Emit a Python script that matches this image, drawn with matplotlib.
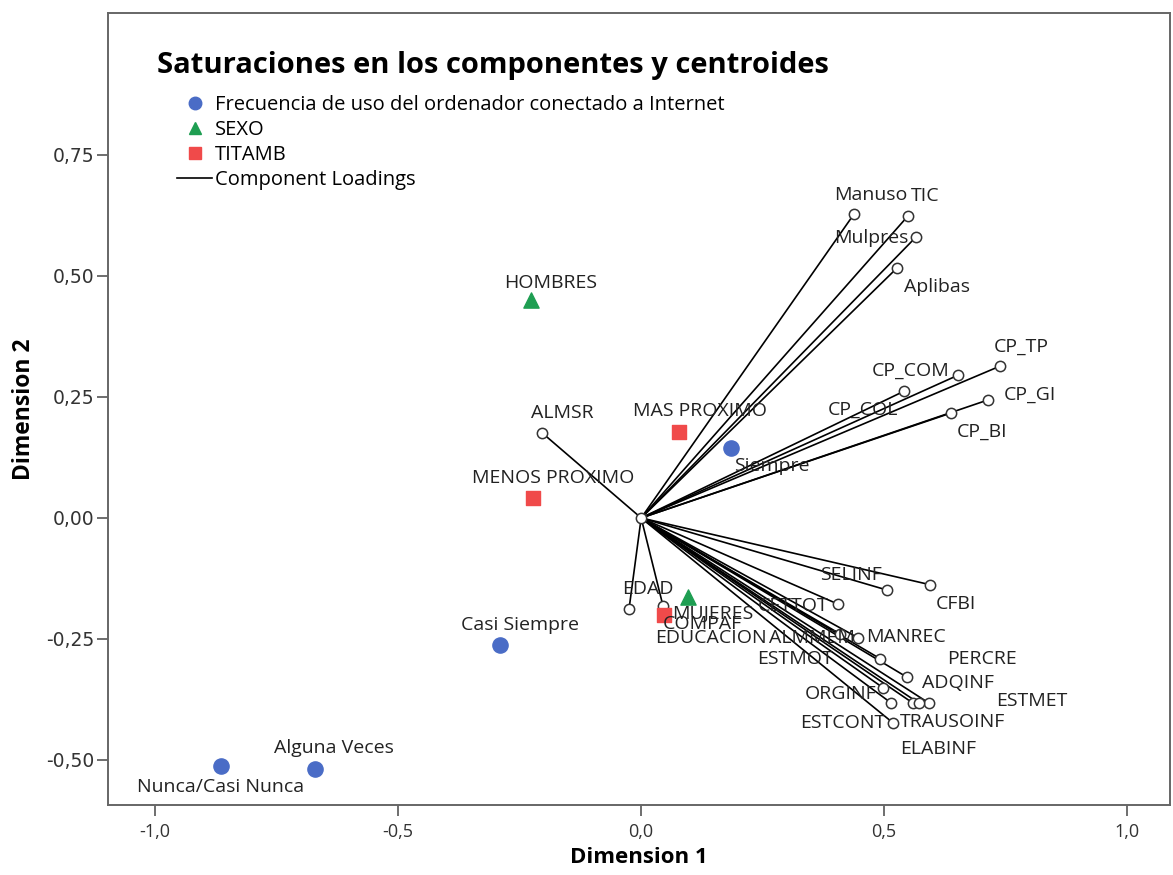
import matplotlib
matplotlib.use("Agg")
import matplotlib.pyplot as plt
from matplotlib.lines import Line2D
from matplotlib.ticker import FuncFormatter

plt.rcParams['font.family'] = ['Open Sans', 'DejaVu Sans']

# ---- data ----
load_names = ["Manuso", "TIC", "Mulpres", "Aplibas", "CP_TP", "CP_COM", "CP_COL",
              "CP_GI", "CP_BI", "ALMSR", "EDAD", "EDUCACION", "SELINF", "CFBI",
              "CETTOT", "ALMMEM", "MANREC", "ESTMOT", "PERCRE", "ADQINF", "ESTMET",
              "ORGINF", "ELABINF", "TRAUSOINF", "ESTCONT"]
load_d1 = [0.438, 0.549, 0.566, 0.527, 0.739, 0.652, 0.541,
           0.714, 0.638, -0.204, -0.025, 0.045, 0.506, 0.595,
           0.405, 0.410, 0.447, 0.514, 0.492, 0.547, 0.593,
           0.498, 0.560, 0.572, 0.519]
load_d2 = [0.628, 0.624, 0.581, 0.517, 0.314, 0.295, 0.262,
           0.244, 0.217, 0.176, -0.188, -0.182, -0.149, -0.138,
           -0.178, -0.240, -0.248, -0.382, -0.291, -0.329, -0.383,
           -0.351, -0.383, -0.383, -0.424]

freq_names = ["Siempre", "Casi Siempre", "Alguna Veces", "Nunca/Casi Nunca"]
freq_d1 = [0.185, -0.290, -0.671, -0.864]
freq_d2 = [0.145, -0.262, -0.519, -0.512]

sexo_names = ["HOMBRES", "MUJERES"]
sexo_d1 = [-0.226, 0.097]
sexo_d2 = [0.450, -0.163]

titamb_names = ["MAS PROXIMO", "MENOS PROXIMO", "COMPAF"]
titamb_d1 = [0.078, -0.222, 0.047]
titamb_d2 = [0.178, 0.041, -0.200]

x_ticks = [-1.0, -0.5, 0.0, 0.5, 1.0]
y_ticks = [-0.5, -0.25, 0.0, 0.25, 0.5, 0.75]

# ---- label offsets (pixels) ----
offsets = {
    "Manuso": (17, 19), "TIC": (17, 20), "Mulpres": (-45, -1), "Aplibas": (40, -19),
    "CP_TP": (21, 19), "CP_COM": (-47, 4), "CP_COL": (-41, -19), "CP_GI": (42, 5),
    "CP_BI": (31, -19), "ALMSR": (20, 20), "EDAD": (19, 20), "EDUCACION": (48, -32),
    "SELINF": (-36, 15), "CFBI": (26, -19), "CETTOT": (-45, -2), "ALMMEM": (-29, -4),
    "MANREC": (48, 1), "ESTMOT": (-96, 44), "PERCRE": (102, 0), "ADQINF": (51, -6),
    "ESTMET": (102, 2), "ORGINF": (-43, -6), "ELABINF": (25, -46), "TRAUSOINF": (33, -19),
    "ESTCONT": (-51, 0),
    "Siempre": (41, -18), "Casi Siempre": (20, 20), "Alguna Veces": (19, 21),
    "Nunca/Casi Nunca": (-1, -21),
    "HOMBRES": (19, 17), "MUJERES": (24, -17),
    "MAS PROXIMO": (21, 21), "MENOS PROXIMO": (20, 20), "COMPAF": (38, -9),
}

BLUE = "#4a6cc6"
GREEN = "#1e9e52"
RED = "#f04a4a"

fig = plt.figure(figsize=(11.73, 8.75), dpi=100)
ax = fig.add_axes([0.0921, 0.080, 0.9053, 0.905])
ax.set_xlim(-1.097, 1.088)
ax.set_ylim(-0.593, 1.043)

lblfs = 14
# loadings
for n, x, y in zip(load_names, load_d1, load_d2):
    ax.plot([0, x], [0, y], color="black", lw=1.2, zorder=2)
ax.scatter(load_d1, load_d2, s=55, facecolors="white", edgecolors="#333333",
           linewidths=1.1, zorder=3)
ax.scatter([0], [0], s=55, facecolors="white", edgecolors="#333333", linewidths=1.1, zorder=3)

ax.scatter(freq_d1, freq_d2, s=120, marker="o", color=BLUE, zorder=4)
ax.scatter(sexo_d1, sexo_d2, s=120, marker="^", color=GREEN, zorder=4)
ax.scatter(titamb_d1, titamb_d2, s=100, marker="s", color=RED, zorder=4)

all_names = load_names + freq_names + sexo_names + titamb_names
all_x = load_d1 + freq_d1 + sexo_d1 + titamb_d1
all_y = load_d2 + freq_d2 + sexo_d2 + titamb_d2
for n, x, y in zip(all_names, all_x, all_y):
    dx, dy = offsets[n]
    ax.annotate(n, (x, y), xytext=(dx, dy), textcoords="offset pixels",
                ha="center", va="center", fontsize=lblfs, color="#222222", zorder=5)

# axes styling
ax.set_xticks(x_ticks)
ax.set_yticks(y_ticks)
ax.xaxis.set_major_formatter(FuncFormatter(lambda v, p: f"{v:.1f}".replace(".", ",")))
ax.yaxis.set_major_formatter(FuncFormatter(lambda v, p: f"{v:.2f}".replace(".", ",")))
ax.tick_params(axis="both", direction="out", length=8, width=1.2, color="#555555",
               labelcolor="#333333")
ax.tick_params(axis="x", labelsize=13, pad=5)
ax.tick_params(axis="y", labelsize=13.5, pad=2)
for t in ax.get_yticklabels():
    t.set_fontfamily("DejaVu Sans")
for s in ax.spines.values():
    s.set_color("#666666")
    s.set_linewidth(1.4)
ax.set_xlabel("Dimension 1", fontsize=16, fontweight="bold", labelpad=4)
ax.set_ylabel("Dimension 2", fontsize=16.5, fontweight="bold", labelpad=7)

ax.text(0.046, 0.934, "Saturaciones en los componentes y centroides", transform=ax.transAxes,
        fontsize=21, fontweight="bold", ha="left", va="center")

handles = [
    Line2D([], [], marker="o", ls="", color=BLUE, markersize=9),
    Line2D([], [], marker="^", ls="", color=GREEN, markersize=9),
    Line2D([], [], marker="s", ls="", color=RED, markersize=8),
    Line2D([], [], color="black", lw=1.2),
]
labels = ["Frecuencia de uso del ordenador conectado a Internet", "SEXO", "TITAMB",
          "Component Loadings"]
ax.legend(handles, labels, loc="upper left", bbox_to_anchor=(0.065, 0.896), frameon=False,
          fontsize=14.5, handlelength=1.75, handletextpad=0.15, labelspacing=0.24,
          borderaxespad=0, borderpad=0)

fig.savefig("out.png", dpi=100)
